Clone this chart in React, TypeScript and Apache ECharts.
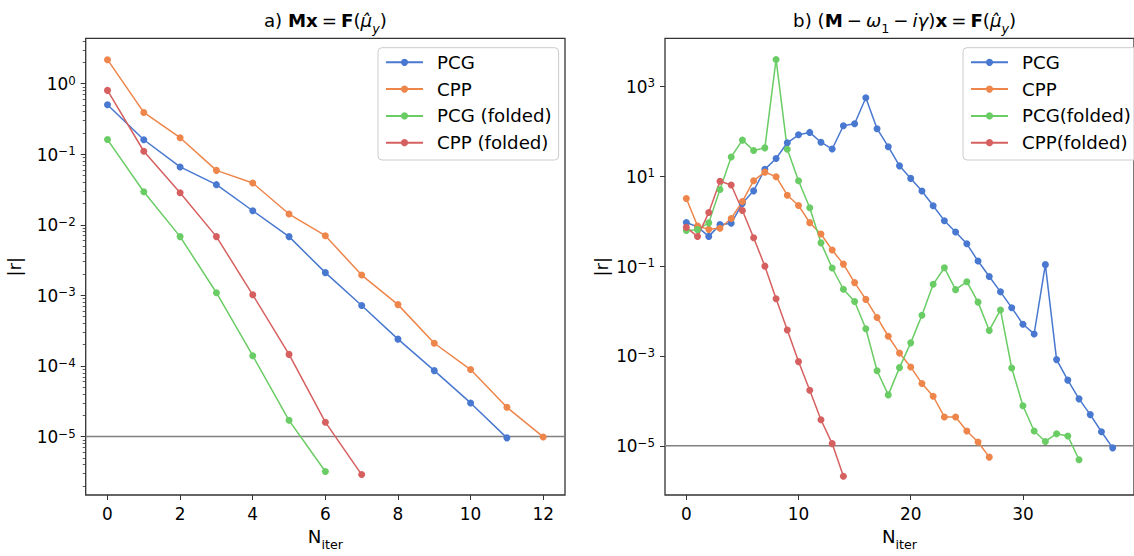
import React, { useEffect, useRef } from "react";
import * as echarts from "echarts";

// ---------- data ----------
const leftPCG = [0.5, 0.16, 0.066, 0.037, 0.0158, 0.0068, 0.0021, 7.2e-4, 2.4e-4, 8.6e-5, 3.0e-5, 9.6e-6];
const leftCPP = [2.18, 0.39, 0.171, 0.059, 0.039, 0.0142, 0.007, 0.00194, 7.4e-4, 2.1e-4, 8.9e-5, 2.6e-5, 9.9e-6];
const leftPCGFolded = [0.161, 0.0294, 0.0068, 1.09e-3, 1.4e-4, 1.7e-5, 3.2e-6];
const leftCPPFolded = [0.8, 0.11, 0.0284, 0.0068, 1.02e-3, 1.46e-4, 1.6e-5, 2.9e-6];

const rightPCG = [
  0.94, 0.75, 0.46, 0.84, 0.9, 2.5, 4.75, 14.3, 25, 55.8, 84, 95, 57.5, 40.5, 134, 148, 563, 115, 45.7, 17.1,
  9.0, 4.7, 2.22, 1.03, 0.575, 0.314, 0.13, 0.059, 0.0268, 0.0119, 0.0051, 0.0031, 0.108, 8.3e-4, 2.9e-4,
  1.11e-4, 4.95e-5, 2.06e-5, 9.0e-6,
];
const rightCPP = [
  3.2, 0.78, 0.66, 0.7, 1.15, 2.76, 8.0, 12.4, 9.8, 3.8, 2.24, 0.93, 0.52, 0.228, 0.111, 0.043, 0.0182, 0.0072,
  0.00275, 0.00116, 5.7e-4, 2.43e-4, 1.27e-4, 4.4e-5, 4.4e-5, 2.14e-5, 1.22e-5, 5.6e-6,
];
const rightPCGFolded = [
  0.62, 0.65, 0.92, 5.1, 27, 64, 37.5, 43, 4000, 40, 8.0, 2.0, 0.33, 0.091, 0.0306, 0.0164, 0.00405, 4.7e-4,
  1.36e-4, 5.5e-4, 0.00196, 0.0081, 0.0394, 0.092, 0.03, 0.045, 0.0158, 0.0037, 0.0106, 5.4e-4, 7.8e-5, 2.14e-5,
  1.25e-5, 1.86e-5, 1.66e-5, 4.9e-6,
];
const rightCPPFolded = [0.73, 0.456, 1.56, 7.76, 6.4, 1.73, 0.43, 0.1, 0.0188, 0.0038, 7.5e-4, 1.73e-4, 3.8e-5, 1.12e-5, 2.1e-6];

const tolerance = 1e-5;

const leftXTicks = [0, 2, 4, 6, 8, 10, 12];
const rightXTicks = [0, 10, 20, 30];
const leftYExponents = [-5, -4, -3, -2, -1, 0];
const rightYExponents = [-5, -3, -1, 1, 3];

const leftNames = ["PCG", "CPP", "PCG (folded)", "CPP (folded)"];
const rightNames = ["PCG", "CPP", "PCG(folded)", "CPP(folded)"];
const colors = ["#4878d0", "#ee854a", "#6acc64", "#d65f5f"];

// ---------- styling ----------
const FONT = "'DejaVu Sans', sans-serif";
const FS = 16.9; // tick labels
const FL = 18.2; // titles, legend, axis names
const SUP = 11.8;
const SUBL = 12.7;
const TXT = "#000";
const SPINE = "#333";

const L = { left: 85.7, top: 38.3, width: 479.3, height: 464.4 };
const R = { left: 665, top: 38.3, width: 479.2, height: 464.4 };
const leftXRange = [-0.6, 12.6];
const rightXRange = [-1.9, 39.9];

const leftYMin = Math.pow(10, -5.827);
const leftYMax = Math.pow(10, 0.641);
const rightYMin = Math.pow(10, -6.095);
const rightYMax = Math.pow(10, 4.073);

const minorTicks: number[] = [];
for (let n = -6; n <= 0; n++) {
  for (let k = 2; k <= 9; k++) {
    const v = k * Math.pow(10, n);
    if (v > leftYMin && v < leftYMax) minorTicks.push(v);
  }
}

const supRich = {
  b: { fontSize: FS, fontFamily: FONT, color: TXT, lineHeight: 18, verticalAlign: "bottom" },
  s: { fontSize: SUP, fontFamily: FONT, color: TXT, lineHeight: 8, verticalAlign: "top" },
};

const base = { fontSize: FL, fontFamily: FONT, color: TXT, fontWeight: "normal", lineHeight: 24, verticalAlign: "top" };
const subBase = { fontSize: SUBL, fontFamily: FONT, color: TXT, fontWeight: "normal", lineHeight: 13, verticalAlign: "bottom" };
const titleRich = {
  n: { ...base },
  b: { ...base, fontWeight: "bold" },
  i: { ...base, fontStyle: "italic" },
  sp: { ...base, padding: [0, 4, 0, 4] },
  sub: { ...subBase },
  subi: { ...subBase, fontStyle: "italic" },
};

const expLabel = (v: number) => {
  const e = Math.round(Math.log10(v));
  const s = e < 0 ? "\u2212" + Math.abs(e) : String(e);
  return `{b|10}{s|${s}}`;
};

const xAxisBase = (gridIndex: number, range: number[], ticks: number[]) => ({
  type: "value",
  gridIndex,
  min: range[0],
  max: range[1],
  splitLine: { show: false },
  axisLine: { show: false, onZero: false },
  axisTick: { show: true, customValues: ticks, length: 5, lineStyle: { color: SPINE, width: 1 } },
  axisLabel: { customValues: ticks, fontSize: FS, fontFamily: FONT, color: TXT, margin: 10 },
  name: "{n|N}{sub|iter}",
  nameLocation: "middle",
  nameGap: 32,
  nameTextStyle: { rich: { n: { ...base }, sub: { ...subBase } } },
});

const yAxisMain = (gridIndex: number, min: number, max: number, exps: number[], nameGap: number) => {
  const vals = exps.map((e) => Math.pow(10, e));
  return {
    type: "log",
    logBase: 10,
    gridIndex,
    min,
    max,
    splitLine: { show: false },
    minorSplitLine: { show: false },
    axisLine: { show: false, onZero: false },
    axisTick: { show: true, customValues: vals, length: 5, lineStyle: { color: SPINE, width: 1 } },
    axisLabel: { customValues: vals, formatter: expLabel, margin: 10, rich: supRich },
    name: "|r|",
    nameLocation: "middle",
    nameGap,
    nameRotate: 90,
    nameTextStyle: { fontSize: FL, fontFamily: FONT, color: TXT },
  };
};

const lineSeries = (name: string, vals: number[], color: string, axisIndex: number, yIndex: number) => ({
  type: "line",
  name,
  xAxisIndex: axisIndex,
  yAxisIndex: yIndex,
  data: vals.map((v, i) => [i, v]),
  symbol: "circle",
  symbolSize: 7,
  showSymbol: true,
  lineStyle: { width: 1.5, color },
  itemStyle: { color },
  emphasis: { disabled: true },
  silent: true,
  z: 3,
});

// horizontal tolerance line spanning the full x-range of the panel
const toleranceSeries = (axisIndex: number, yIndex: number, range: number[]) => ({
  type: "line",
  name: "tolerance" + axisIndex,
  xAxisIndex: axisIndex,
  yAxisIndex: yIndex,
  data: range.map((x) => [x, tolerance]),
  symbol: "none",
  showSymbol: false,
  lineStyle: { width: 1.5, color: "#808080" },
  emphasis: { disabled: true },
  silent: true,
  z: 2,
});

const legendBase = (names: string[], left: number) => ({
  data: names,
  orient: "vertical",
  left,
  top: 47.7,
  padding: [4.6, 7, 7.3, 7],
  itemWidth: 37,
  itemHeight: 9,
  itemGap: 6.8,
  selectedMode: false,
  textStyle: { fontSize: FL, fontFamily: FONT, color: TXT, lineHeight: 20, padding: [0, 0, 0, 9] },
  backgroundColor: "rgba(255,255,255,0.8)",
  borderColor: "#cccccc",
  borderWidth: 1,
  borderRadius: 4,
});

export default function App() {
  const ref = useRef<HTMLDivElement>(null);

  useEffect(() => {
    if (!ref.current) return;
    const chart = echarts.init(ref.current, null, { renderer: "svg" });
    const option: any = {
      animation: false,
      backgroundColor: "#fff",
      textStyle: { fontFamily: FONT },
      title: [
        {
          text: "{n|a) }{b|Mx}{sp|=}{b|F}{n|(}{i|\u03bc\u0302}{subi|y}{n|)}",
          left: L.left + L.width / 2,
          textAlign: "center",
          top: 11,
          padding: 0,
          textStyle: { fontWeight: "normal", rich: titleRich },
        },
        {
          text:
            "{n|b) (}{b|M}{sp|\u2212}{i|\u03c9}{sub|1}{sp|\u2212}{i|i\u03b3}{n|)}{b|x}{sp|=}{b|F}{n|(}{i|\u03bc\u0302}{subi|y}{n|)}",
          left: R.left + R.width / 2,
          textAlign: "center",
          top: 11,
          padding: 0,
          textStyle: { fontWeight: "normal", rich: titleRich },
        },
      ],
      grid: [
        { ...L, show: true, borderColor: SPINE, borderWidth: 1.3, backgroundColor: "transparent" },
        { ...R, show: true, borderColor: SPINE, borderWidth: 1.3, backgroundColor: "transparent" },
      ],
      xAxis: [xAxisBase(0, leftXRange, leftXTicks), xAxisBase(1, rightXRange, rightXTicks)],
      yAxis: [
        yAxisMain(0, leftYMin, leftYMax, leftYExponents, 62),
        {
          type: "log",
          logBase: 10,
          gridIndex: 0,
          min: leftYMin,
          max: leftYMax,
          position: "left",
          splitLine: { show: false },
          axisLine: { show: false, onZero: false },
          axisLabel: { show: false },
          axisTick: { show: true, customValues: minorTicks, length: 3, lineStyle: { color: SPINE, width: 0.8 } },
        },
        yAxisMain(1, rightYMin, rightYMax, rightYExponents, 55),
      ],
      legend: [legendBase(leftNames, 378), legendBase(rightNames, 963)],
      series: [
        toleranceSeries(0, 0, leftXRange),
        lineSeries(leftNames[0], leftPCG, colors[0], 0, 0),
        lineSeries(leftNames[1], leftCPP, colors[1], 0, 0),
        lineSeries(leftNames[2], leftPCGFolded, colors[2], 0, 0),
        lineSeries(leftNames[3], leftCPPFolded, colors[3], 0, 0),
        toleranceSeries(1, 2, rightXRange),
        lineSeries(rightNames[0], rightPCG, colors[0], 1, 2),
        lineSeries(rightNames[1], rightCPP, colors[1], 1, 2),
        lineSeries(rightNames[2], rightPCGFolded, colors[2], 1, 2),
        lineSeries(rightNames[3], rightCPPFolded, colors[3], 1, 2),
      ],
    };
    chart.setOption(option);
    return () => chart.dispose();
  }, []);

  return (
    <div
      ref={ref}
      style={{ position: "fixed", left: 0, top: 0, width: 1134, height: 556, background: "#fff" }}
    />
  );
}
